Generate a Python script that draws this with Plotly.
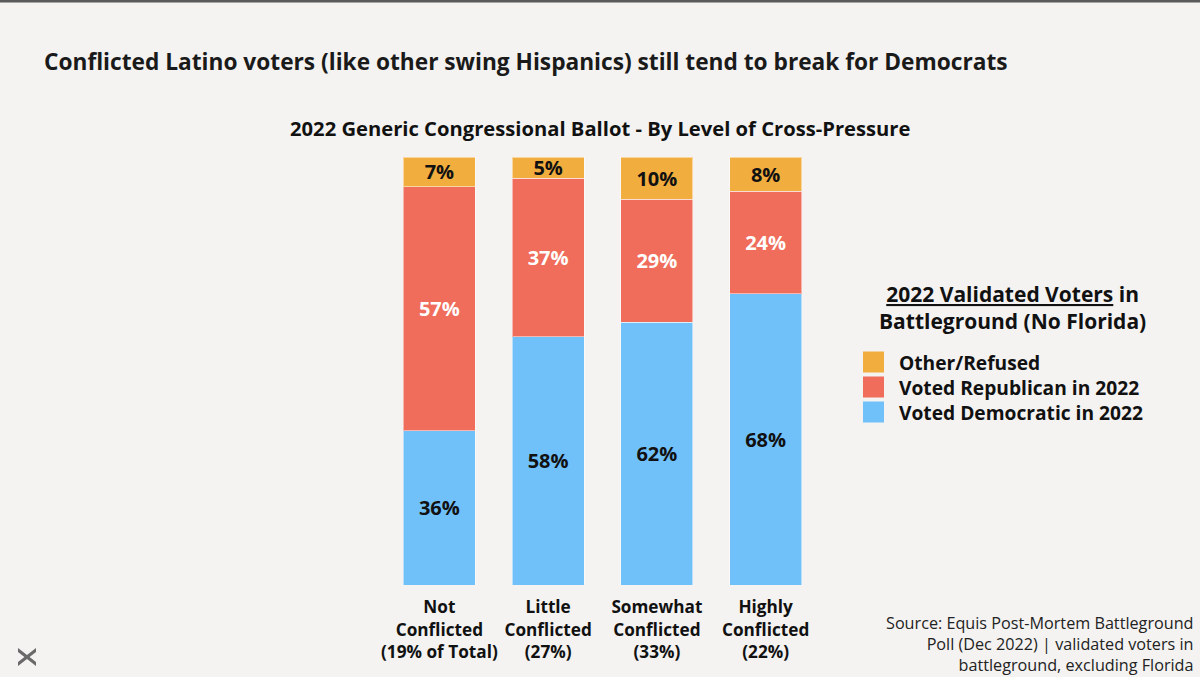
import plotly.graph_objects as go

categories = ["Not<br>Conflicted<br>(19% of Total)", "Little<br>Conflicted<br>(27%)",
              "Somewhat<br>Conflicted<br>(33%)", "Highly<br>Conflicted<br>(22%)"]
dem = [36, 58, 62, 68]
rep = [57, 37, 29, 24]
other = [7, 5, 10, 8]
series_names = ["Voted Democratic in 2022", "Voted Republican in 2022", "Other/Refused"]
colors = ["#70c1fa", "#ef6d5a", "#f2ad3f"]
text_colors = ["#111111", "#ffffff", "#111111"]

FONT = "Open Sans"
BG = "#f4f3f1"
W, H = 1200, 677
L, R, T, B = 385, 380, 157, 92
pw, ph = W - L - R, H - T - B

def px(x):
    return (x - L) / pw

def py(y):
    return (H - B - y) / ph

fig = go.Figure()
for vals, name, col, tcol in zip([dem, rep, other], series_names, colors, text_colors):
    fig.add_trace(go.Bar(
        x=categories, y=vals, name=name,
        marker=dict(color=col, line=dict(color="rgba(255,255,255,0.5)", width=1)),
        text=[f"{v}%" for v in vals], textposition="inside", insidetextanchor="middle",
        textfont=dict(family=FONT, size=20, color=tcol, weight="bold"),
        showlegend=False, hoverinfo="skip",
    ))

fig.update_layout(
    barmode="stack", barnorm="percent", bargap=0.34,
    width=W, height=H,
    margin=dict(l=L, r=R, t=T, b=B, autoexpand=False),
    paper_bgcolor=BG, plot_bgcolor=BG,
    uniformtext=dict(minsize=20, mode="show"),
    xaxis=dict(showgrid=False, showline=False, zeroline=False, ticks="", ticklabelstandoff=10,
               tickfont=dict(family=FONT, size=17.2, color="#111111", weight="bold")),
    yaxis=dict(visible=False, range=[0, 100], showgrid=False),
    font=dict(family=FONT),
)

annotations = [
    dict(text="<b>Conflicted Latino voters (like other swing Hispanics) still tend to break for Democrats</b>",
         x=px(42), y=py(62), xanchor="left", yanchor="middle",
         font=dict(size=22.7, color="#1a1a1a")),
    dict(text="<b>2022 Generic Congressional Ballot - By Level of Cross-Pressure</b>",
         x=px(600), y=py(128), xanchor="center", yanchor="middle",
         font=dict(size=20.2, color="#111111")),
    dict(text="<b><u>2022 Validated Voters</u> in<br>Battleground (No Florida)</b>",
         x=px(1012), y=py(307), xanchor="center", yanchor="middle", align="center",
         font=dict(size=21, color="#111111")),
    dict(text="Source: Equis Post-Mortem Battleground<br>Poll (Dec 2022) | validated voters in<br>battleground, excluding Florida",
         x=px(1196), y=py(644), xanchor="right", yanchor="middle", align="right",
         font=dict(size=16.2, color="#222222")),
]

shapes = [
    dict(type="rect", xref="paper", yref="paper", x0=px(0), x1=px(W), y0=py(0), y1=py(2.5),
         fillcolor="#5a5a5a", line=dict(width=0), layer="above"),
]

# manual legend, top item = Other/Refused
leg_y = [362, 387, 412]
for yy, name, col in zip(leg_y, series_names[::-1], colors[::-1]):
    shapes.append(dict(type="rect", xref="paper", yref="paper",
                       x0=px(863), x1=px(884), y0=py(yy + 10.5), y1=py(yy - 10.5),
                       fillcolor=col, line=dict(width=0)))
    annotations.append(dict(text=f"<b>{name}</b>", x=px(897), y=py(yy), xanchor="left", yanchor="middle",
                            font=dict(size=19.2, color="#111111")))

# logo
shapes.append(dict(type="path", xref="paper", yref="paper",
                   path=f"M {px(18)},{py(648)} L {px(27)},{py(655)} L {px(36)},{py(648)} L {px(36)},{py(652)} L {px(27)},{py(659)} L {px(18)},{py(652)} Z",
                   fillcolor="#6a6a6a", line=dict(width=0)))
shapes.append(dict(type="path", xref="paper", yref="paper",
                   path=f"M {px(18)},{py(666)} L {px(27)},{py(659)} L {px(36)},{py(666)} L {px(36)},{py(662)} L {px(27)},{py(655)} L {px(18)},{py(662)} Z",
                   fillcolor="#6a6a6a", line=dict(width=0)))

for a in annotations:
    a.setdefault("xref", "paper")
    a.setdefault("yref", "paper")
    a.setdefault("showarrow", False)
    a["font"].setdefault("family", FONT)

fig.update_layout(annotations=annotations, shapes=shapes)
fig.write_html("out.html", config={"displayModeBar": False},
               post_script="document.body.style.margin='0';document.body.style.background='#f4f3f1';")
